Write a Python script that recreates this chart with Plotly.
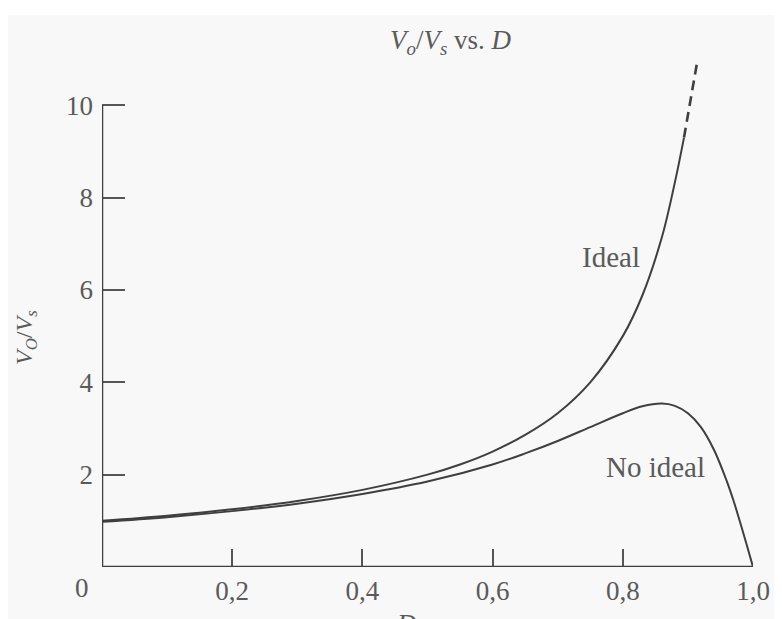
import plotly.graph_objects as go

# Duty cycle D and Vo/Vs
d_ideal = [0.0, 0.1, 0.2, 0.3, 0.4, 0.5, 0.55, 0.6, 0.65, 0.7, 0.75, 0.8, 0.83, 0.86, 0.88, 0.894]
v_ideal = [1.0, 1.11, 1.25, 1.43, 1.67, 2.0, 2.22, 2.5, 2.86, 3.33, 4.0, 5.0, 5.88, 7.14, 8.33, 9.3]

d_ideal_dash = [0.894, 0.905, 0.915]
v_ideal_dash = [9.3, 10.15, 11.0]

d_real = [0.0, 0.1, 0.2, 0.3, 0.4, 0.5, 0.6, 0.65, 0.7, 0.75, 0.8, 0.83, 0.86, 0.88, 0.9,
          0.92, 0.94, 0.96, 0.97, 0.98, 0.99, 1.0]
v_real = [0.98, 1.08, 1.21, 1.37, 1.58, 1.85, 2.22, 2.46, 2.73, 3.03, 3.33, 3.48, 3.54, 3.49, 3.33,
          3.03, 2.54, 1.85, 1.44, 0.98, 0.5, 0.0]

x_ticks = [0.2, 0.4, 0.6, 0.8, 1.0]
x_tick_text = ["0,2", "0,4", "0,6", "0,8", "1,0"]
y_ticks = [2, 4, 6, 8, 10]
y_tick_text = ["2", "4", "6", "8", "10"]

LINE = "#3f3f3f"
TXT = "#5a5a5a"
FONT = "Liberation Serif"

# page offset (body margin) of 8px
OFF = 8
W, H = 782 - OFF, 619 - OFF
L, R, T, B = 102 - OFF, 21, 36 - OFF, 52
pw, ph = W - L - R, H - T - B

fig = go.Figure()
fig.add_trace(go.Scatter(x=d_ideal, y=v_ideal, mode="lines", line=dict(color=LINE, width=2, shape="spline"),
                         showlegend=False, hoverinfo="skip"))
fig.add_trace(go.Scatter(x=d_ideal_dash, y=v_ideal_dash, mode="lines",
                         line=dict(color=LINE, width=2.6, dash="10px,6px"), showlegend=False, hoverinfo="skip"))
fig.add_trace(go.Scatter(x=d_real, y=v_real, mode="lines", line=dict(color=LINE, width=2, shape="spline"),
                         showlegend=False, hoverinfo="skip"))

# axis lines
fig.add_shape(type="line", xref="x", yref="y", x0=0, y0=0, x1=0, y1=10, line=dict(color=LINE, width=2.5))
fig.add_shape(type="line", xref="x", yref="y", x0=0, y0=0, x1=1, y1=0, line=dict(color=LINE, width=2.5))
# white strip at top of scan
top_y = H - B - (15 - OFF)
fig.add_shape(type="rect", xref="paper", yref="paper", x0=-0.3, x1=1.2, y0=top_y / ph, y1=(H - B + 5) / ph,
              fillcolor="white", line=dict(width=0), layer="below")

fig.update_xaxes(range=[0, 1], tickvals=x_ticks, ticktext=x_tick_text, ticks="inside", ticklen=18,
                 tickwidth=1.5, tickcolor="#555", showline=False, showgrid=False, zeroline=False,
                 tickfont=dict(family=FONT, size=27, color=TXT), ticklabelstandoff=5)
fig.update_yaxes(range=[0, 11.5], tickvals=y_ticks, ticktext=y_tick_text, ticks="inside", ticklen=23,
                 tickwidth=1.5, tickcolor="#555", showline=False, showgrid=False, zeroline=False,
                 tickfont=dict(family=FONT, size=27, color=TXT), ticklabelstandoff=8)

ann = [
    dict(text="<i>V<sub>o</sub></i>/<i>V<sub>s</sub></i> vs. <i>D</i>", x=455, y=42, size=27),
    dict(text="Ideal", x=617, y=257, size=29),
    dict(text="No ideal", x=662, y=467, size=29),
    dict(text="0", x=82, y=588, size=27),
    dict(text="<i>D</i>", x=410, y=624, size=27),
]
for a in ann:
    fig.add_annotation(text=a["text"], xref="paper", yref="paper",
                       x=(a["x"] - OFF - L) / pw, y=(H - B - (a["y"] - OFF)) / ph,
                       showarrow=False, xanchor="center", yanchor="middle",
                       font=dict(family=FONT, size=a["size"], color=TXT))
fig.add_annotation(text="<i>V<sub>O</sub></i>/<i>V<sub>s</sub></i>", xref="paper", yref="paper",
                   x=(25 - OFF - L) / pw, y=(H - B - (337 - OFF)) / ph, textangle=-90, showarrow=False,
                   xanchor="center", yanchor="middle", font=dict(family=FONT, size=24, color=TXT))

fig.update_layout(width=W, height=H, margin=dict(l=L, r=R, t=T, b=B),
                  paper_bgcolor="#f8f8f8", plot_bgcolor="#f8f8f8")
fig.write_html("out.html")
